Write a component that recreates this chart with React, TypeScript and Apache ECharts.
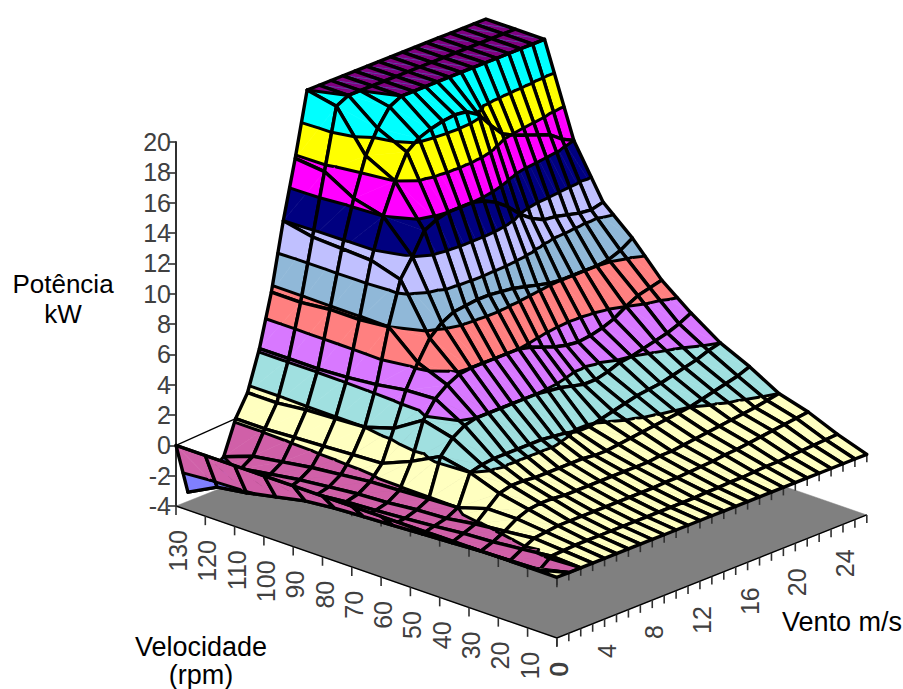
import React, { useEffect, useRef } from "react";
import * as echarts from "echarts";

const windSpeeds = [0,1,2,3,4,5,6,7,8,9,10,11,12,13,14,15,16,17,18,19,20,21,22,23,24,25,26];
const rotorSpeeds = [0,10,20,30,40,50,60,70,80,90,100,110,120,130];
const rpmTickLabels = [130,120,110,100,90,80,70,60,50,40,30,20,10,0];
const windTickLabels = [0,4,8,12,16,20,24];

const power0 = [0,0,0,0,0,0,0,0,0,0,0,0,0,0,0,0,0,0,0,0,0,0,0,0,0,0,0];
const power10 = [0,-.5,.1,.15,.2,.2,.2,.2,.2,.2,.2,.2,.2,.2,.2,.25,.25,.3,.3,.35,.4,.4,.45,.5,.55,.6,.65];
const power20 = [0,-.55,-.1,.3,.4,.5,.5,.5,.5,.5,.5,.5,.5,.5,.55,.55,.6,.65,.7,.8,.85,.95,1.05,1.15,1.25,1.35,1.45];
const power30 = [0,-.6,-.3,.1,.6,.9,1,1,.9,.9,.9,.9,.9,.9,.9,.9,1,1,1.1,1.2,1.3,1.4,1.5,1.6,1.7,1.85,2];
const power40 = [0,-.7,-.4,-.1,.6,1.3,1.5,1.5,1.4,1.4,1.4,1.4,1.4,1.3,1.3,1.4,1.5,1.6,1.7,1.8,1.9,2,2.2,2.4,2.6,2.8,3.1];
const power50 = [0,-.8,-.6,-.4,0,2,2.2,2.3,2.3,2.3,2.3,2.3,2.2,2.1,1.9,1.9,2.1,2.3,2.5,2.7,2.8,2.9,3.1,3.3,3.5,3.8,4];
const power60 = [0,-.9,-.75,-.5,-.1,2.4,3.3,3.8,4,4,4,4,4,4,3.9,3.8,3.6,3.4,3.4,3.6,3.9,4,4.2,4.4,4.6,4.9,5.3];
const power70 = [0,-1,-.9,-.7,-.2,1.4,3.8,4.9,5.5,5.9,6,6,6,6,6,5.8,5.5,5.2,5,4.9,5,5.2,5.5,6,6.4,6.6,6.8];
const power80 = [0,-1.1,-1,-.8,-.3,.6,2.6,4.8,6.3,7.6,8.3,8.7,8.8,8.9,8.9,8.8,8.7,8.5,8.3,8.1,8,8,8,8,8.1,8.4,8.9];
const power90 = [0,-1.3,-1.2,-1,-.5,.5,2,4.5,8,10.8,12,13.4,13.8,14,14,14,13.8,13.4,12.8,12,11.4,11,10.9,10.7,10.5,10.4,10.6];
const power100 = [0,-1.7,-1.5,-1.2,-.7,.4,1.9,4.3,7.8,11.4,14,16,17.6,18.2,18.5,18.7,18.8,18.7,18.2,17.2,16.3,15.9,15.6,15.3,15,14.4,14];
const power110 = [0,-2.1,-1.8,-1.5,-1,.3,1.8,4.2,7.8,11.5,14.5,17,18.5,19.6,20,20,20,20,20,20,20,20,20,20,20,20,20];
const power120 = [0,-2.4,-2.1,-1.8,-1.3,.2,1.6,4.2,7.6,11.6,15.6,19.6,20,20,20,20,20,20,20,20,20,20,20,20,20,20,20];
const power130 = [0,-3.4,-3,-2.6,-2,.2,1.6,4.2,7.6,12,15.8,20,20,20,20,20,20,20,20,20,20,20,20,20,20,20,20];
const powerRows = [power0,power10,power20,power30,power40,power50,power60,power70,power80,power90,power100,power110,power120,power130];

const bandLevels = [-4,-2,0,2,4,6,8,10,12,14,16,18,20];
const bandColors = ["#8080FF","#D060A8","#FFFFC0","#A0E0E0","#D878FF","#FF8080","#90B8D8","#C0C0FF","#000080","#FF00FF","#FFFF00","#00FFFF","#800080"];

const AX_X = 176;
const WIND_DX = 11.92, WIND_DY = -4.73, RPM_DX = 2.93, RPM_DY = 1.015;
const FONT = "'Liberation Sans', Arial, sans-serif";
const TICK_COLOR = "#303030";
const LABEL_COLOR = "#404040";

type V = [number, number, number];

function project(api: any, w: number, r: number, z: number): V {
  const px = api.coord([WIND_DX * w + RPM_DX * (130 - r), z]);
  return [px[0], px[1] + WIND_DY * w + RPM_DY * (130 - r), z];
}

function clipAbove(poly: V[], level: number): V[] { return clip(poly, level, 1); }
function clipBelow(poly: V[], level: number): V[] { return clip(poly, level, -1); }
function clip(poly: V[], level: number, sign: number): V[] {
  const out: V[] = [];
  for (let i = 0; i < poly.length; i++) {
    const a = poly[i], b = poly[(i + 1) % poly.length];
    const ia = sign * (a[2] - level) >= 0, ib = sign * (b[2] - level) >= 0;
    if (ia) out.push(a);
    if (ia !== ib) {
      const t = (level - a[2]) / (b[2] - a[2]);
      out.push([a[0] + t * (b[0] - a[0]), a[1] + t * (b[1] - a[1]), level]);
    }
  }
  return out;
}

function triangleElements(tri: V[]) {
  const els: any[] = [];
  for (let k = 0; k < bandLevels.length; k++) {
    const lo = bandLevels[k];
    let poly = clipAbove(tri, lo);
    if (k + 1 < bandLevels.length && poly.length) poly = clipBelow(poly, bandLevels[k + 1]);
    if (poly.length < 3) continue;
    els.push({
      type: "polygon",
      shape: { points: poly.map((p) => [p[0], p[1]]) },
      style: { fill: bandColors[k], stroke: bandColors[k], lineWidth: 0.6 },
    });
  }
  for (let k = 1; k < bandLevels.length; k++) {
    const L = bandLevels[k];
    const pts: number[][] = [];
    for (let i = 0; i < 3; i++) {
      const a = tri[i], b = tri[(i + 1) % 3];
      if (a[2] < L !== b[2] < L) {
        const t = (L - a[2]) / (b[2] - a[2]);
        pts.push([a[0] + t * (b[0] - a[0]), a[1] + t * (b[1] - a[1])]);
      }
    }
    if (pts.length === 2) {
      els.push({
        type: "line",
        shape: { x1: pts[0][0], y1: pts[0][1], x2: pts[1][0], y2: pts[1][1] },
        style: { stroke: "#000", lineWidth: 3, lineCap: "round" },
      });
    }
  }
  return els;
}

function renderCell(_p: any, api: any) {
  const i = api.value(0), j = api.value(1);
  const w0 = windSpeeds[i], w1 = windSpeeds[i + 1], r0 = rotorSpeeds[j], r1 = rotorSpeeds[j + 1];
  const a = project(api, w0, r0, powerRows[j][i]);
  const b = project(api, w1, r0, powerRows[j][i + 1]);
  const c = project(api, w1, r1, powerRows[j + 1][i + 1]);
  const d = project(api, w0, r1, powerRows[j + 1][i]);
  const children = [...triangleElements([b, c, d]), ...triangleElements([a, b, d])];
  children.push({
    type: "polygon",
    shape: { points: [a, b, c, d].map((p) => [p[0], p[1]]) },
    style: { fill: "none", stroke: "#000", lineWidth: 3.4, lineJoin: "round" },
  });
  return { type: "group", children };
}

function tick(x: number, y: number, len: number) {
  return { type: "line", shape: { x1: x, y1: y, x2: x, y2: y + len }, style: { stroke: TICK_COLOR, lineWidth: 1.6 } };
}
function rotatedLabel(x: number, y: number, text: string) {
  return {
    type: "text", x, y, rotation: Math.PI / 2,
    style: { text, fill: LABEL_COLOR, font: `25px ${FONT}`, align: "right", verticalAlign: "middle" },
  };
}

function renderFrame(_p: any, api: any) {
  const wMax = windSpeeds[windSpeeds.length - 1];
  const rMax = rotorSpeeds[rotorSpeeds.length - 1];
  const f = (w: number, r: number) => project(api, w, r, -4);
  const floor = [f(0, rMax), f(0, 0), f(wMax, 0), f(wMax, rMax)];
  const ch: any[] = [{
    type: "polygon",
    shape: { points: floor.map((p) => [p[0], p[1]]) },
    style: { fill: "#808080", stroke: "#808080", lineWidth: 0.5 },
  }];
  ch.push({ type: "polyline", shape: { points: [f(0, rMax), f(0, 0), f(wMax, 0)].map((p) => [p[0], p[1]]) },
    style: { fill: "none", stroke: "#000", lineWidth: 1.4 } });
  rotorSpeeds.forEach((r) => {
    const p = f(0, r);
    ch.push(tick(p[0], p[1], 9));
    const q = project(api, 0, r, 0);
    ch.push(tick(q[0], q[1], 10));
  });
  windSpeeds.forEach((w) => {
    const p = f(w, 0);
    ch.push(tick(p[0], p[1], 8));
    const q = project(api, w, 0, 0);
    ch.push(tick(q[0], q[1], 8));
  });
  rpmTickLabels.forEach((r) => {
    const p = f(0, r);
    ch.push(rotatedLabel(p[0] + 2, p[1] + 24, String(r)));
  });
  windTickLabels.forEach((w) => {
    const p = f(w, 0);
    ch.push(rotatedLabel(p[0] + 2, p[1] + 25, String(w)));
  });
  const t0 = project(api, 0, rMax, 0), t1 = project(api, 5, rMax, 0.2);
  ch.push({ type: "line", shape: { x1: t0[0], y1: t0[1], x2: t1[0], y2: t1[1] }, style: { stroke: "#000", lineWidth: 1.2 } });
  return { type: "group", children: ch };
}

const cellOrder: number[][] = [];
for (let i = windSpeeds.length - 2; i >= 0; i--) {
  for (let j = rotorSpeeds.length - 2; j >= 0; j--) cellOrder.push([i, j]);
}

function caption(text: string, x: number, y: number, size: number, lineHeight: number) {
  return {
    type: "text", x, y, silent: true,
    style: { text, fill: "#000", font: `${size}px ${FONT}`, lineHeight, align: "center", verticalAlign: "middle" },
  };
}

export default function App() {
  const ref = useRef<HTMLDivElement>(null);
  useEffect(() => {
    const chart = echarts.init(ref.current!, undefined, { renderer: "svg" });
    chart.setOption({
      animation: false,
      backgroundColor: "#fff",
      grid: { left: AX_X, top: 142, width: 700, height: 364, containLabel: false },
      xAxis: { type: "value", min: 0, max: 700, show: false },
      yAxis: {
        type: "value", min: -4, max: 20, interval: 2, position: "left",
        axisLine: { show: true, onZero: false, lineStyle: { color: TICK_COLOR, width: 2 } },
        axisTick: { show: true, length: 8, lineStyle: { color: TICK_COLOR, width: 1.6 } },
        axisLabel: { color: LABEL_COLOR, fontSize: 25, fontFamily: FONT, margin: 5 },
        splitLine: { show: false },
      },
      graphic: [
        caption("Potência\nkW", 63, 299, 26, 30),
        caption("Velocidade\n(rpm)", 201, 661, 27, 28),
        caption("Vento m/s", 842, 622, 27, 28),
      ],
      series: [
        { type: "custom", coordinateSystem: "cartesian2d", silent: true, clip: false, z: 1,
          data: [[0, 0]], encode: { x: 0, y: 1 }, renderItem: renderFrame },
        { type: "custom", coordinateSystem: "cartesian2d", silent: true, clip: false, z: 2,
          data: cellOrder, encode: { x: 0, y: 1 }, renderItem: renderCell },
      ],
    });
    return () => chart.dispose();
  }, []);
  return <div ref={ref} style={{ position: "fixed", left: 0, top: 0, width: 903, height: 689 }} />;
}
